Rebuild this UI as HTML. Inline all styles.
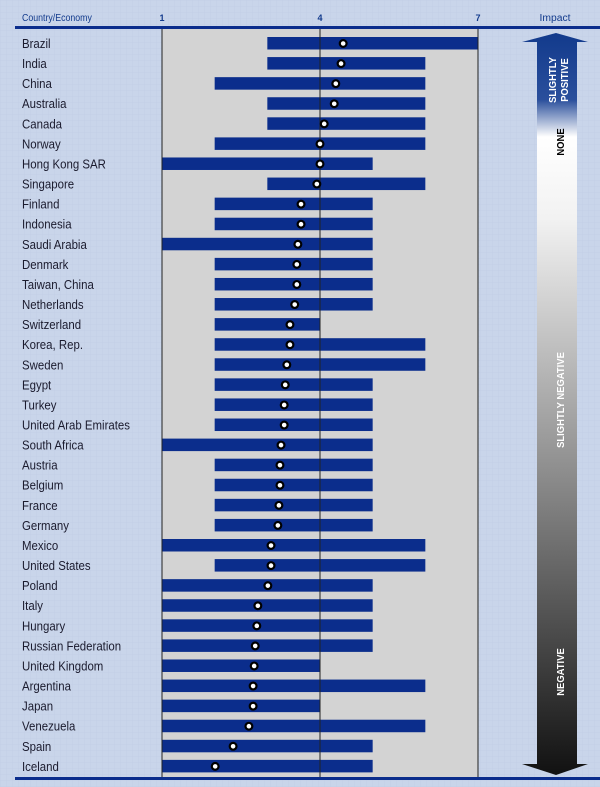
<!DOCTYPE html>
<html><head><meta charset="utf-8"><style>
html,body{margin:0;padding:0;background:#c9d5ea;}
svg{display:block;}
text{font-family:"Liberation Sans Narrow","Liberation Sans",sans-serif;}
</style></head><body>
<svg id="chart" width="600" height="787" viewBox="0 0 600 787" xmlns="http://www.w3.org/2000/svg">
<defs>
<pattern id="grid" width="6" height="6" patternUnits="userSpaceOnUse"><rect width="6" height="6" fill="#c9d5ea"/><path d="M0 0H6M0 0V6" stroke="#c2cfe6" stroke-width="1"/></pattern>
<linearGradient id="arrowGrad" x1="0" y1="0" x2="0" y2="1">
<stop offset="0" stop-color="#123a8c"/><stop offset="0.09" stop-color="#2a4f9c"/><stop offset="0.14" stop-color="#ffffff"/><stop offset="0.25" stop-color="#f2f2f2"/><stop offset="0.55" stop-color="#9a9a9a"/><stop offset="1" stop-color="#111111"/>
</linearGradient>
</defs>
<rect width="600" height="787" fill="url(#grid)"/>
<g id="plot"></g>
<g id="labels" transform="translate(22,0) scale(0.88,1)"></g>
</svg>
<script>
const countries=["Brazil","India","China","Australia","Canada","Norway","Hong Kong SAR","Singapore","Finland","Indonesia","Saudi Arabia","Denmark","Taiwan, China","Netherlands","Switzerland","Korea, Rep.","Sweden","Egypt","Turkey","United Arab Emirates","South Africa","Austria","Belgium","France","Germany","Mexico","United States","Poland","Italy","Hungary","Russian Federation","United Kingdom","Argentina","Japan","Venezuela","Spain","Iceland"];
const rangeLow=[3,3,2,3,3,2,1,3,2,2,1,2,2,2,2,2,2,2,2,2,1,2,2,2,2,1,2,1,1,1,1,1,1,1,1,1,1];
const rangeHigh=[7,6,6,6,6,6,5,6,5,5,5,5,5,5,4,6,6,5,5,5,5,5,5,5,5,6,6,5,5,5,5,4,6,4,6,5,5];
const scores=[4.44,4.40,4.30,4.27,4.08,4.0,4.0,3.94,3.64,3.64,3.58,3.56,3.56,3.52,3.43,3.43,3.37,3.34,3.32,3.32,3.26,3.24,3.24,3.22,3.20,3.07,3.07,3.01,2.82,2.80,2.77,2.75,2.73,2.73,2.65,2.35,2.01];
const tickLabels=["1","4","7"];
const tickValues=[1,4,7];
const NS="http://www.w3.org/2000/svg";
const g=document.getElementById('plot');
const lg=document.getElementById('labels');
const x=v=>162+(v-1)*(316/6);
const y=i=>43+i*20.08;
function mk(tag,attrs,parent){const e=document.createElementNS(NS,tag);for(const k in attrs)e.setAttribute(k,attrs[k]);(parent||g).appendChild(e);return e;}
let e=mk('rect',{x:x(1),y:28,width:x(7)-x(1),height:749,fill:'#d3d3d3'});


countries.forEach((c,i)=>{
  let b=mk('rect',{x:x(rangeLow[i]),y:y(i)-6,width:x(rangeHigh[i])-x(rangeLow[i]),height:12.5,fill:'#0b2d8c'});
  
  
});
tickValues.forEach((v,i)=>{
  let l=mk('line',{x1:x(v),x2:x(v),y1:28,y2:777,stroke:'#222',"stroke-width":1});
  
  
  let t=mk('text',{x:x(v),y:21,"font-size":9,"font-weight":'bold',fill:'#123a8c',"text-anchor":'middle'});
  t.textContent=tickLabels[i];
  
  
});
countries.forEach((c,i)=>{
  let d=mk('circle',{cx:x(scores[i]),cy:y(i)+0.5,r:3.4,fill:'#fff',stroke:'#000',"stroke-width":2.2});
  
  
  let t=mk('text',{x:0,y:y(i)+5,"font-size":13,fill:'#1b1b2e'},lg);
  t.textContent=c;
  
  
});
let t1=mk('text',{x:0,y:21,"font-size":10,fill:'#123a8c'},lg);t1.textContent='Country/Economy';


let t2=mk('text',{x:555,y:21,"font-size":10,fill:'#123a8c',"text-anchor":'middle',"textLength":31,"lengthAdjust":'spacingAndGlyphs'});t2.textContent='Impact';


let r1=mk('rect',{x:15,y:26,width:585,height:3,fill:'#0b2d8c'});


let r2=mk('rect',{x:15,y:777,width:585,height:3,fill:'#0b2d8c'});


let ar=mk('path',{d:'M556 33 L588 42 L577 42 L577 764 L588 764 L556 775 L522 764 L537 764 L537 42 L522 42 Z',fill:'url(#arrowGrad)'});


const arrowLabels=[["SLIGHTLY",80,552,'#fff'],["POSITIVE",80,564,'#fff'],["NONE",142,560,'#000'],["SLIGHTLY NEGATIVE",400,560,'#fff'],["NEGATIVE",672,560,'#fff']];
arrowLabels.forEach((a,i)=>{
  let t=mk('text',{x:0,y:0,"font-size":10.5,"font-weight":'bold',fill:a[3],"text-anchor":'middle',transform:`translate(${a[2]+4},${a[1]}) rotate(-90) scale(0.9,1)`});
  t.textContent=a[0];
  
  
});
</script>
</body></html>
